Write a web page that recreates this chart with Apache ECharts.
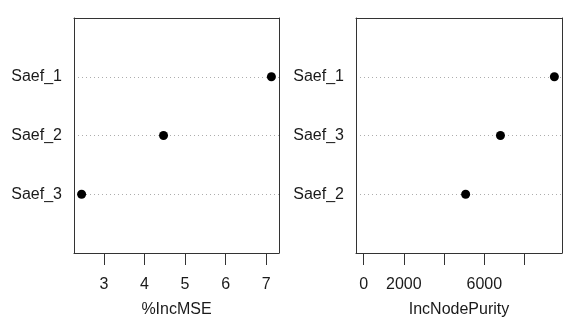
<!DOCTYPE html>
<html>
<head>
<meta charset="utf-8">
<script src="https://cdn.jsdelivr.net/npm/echarts@6/dist/echarts.min.js"></script>
<style>
html,body{margin:0;padding:0;background:#fff;}
#chart{width:585px;height:327px;}
</style>
</head>
<body>
<div id="chart"></div>
<script>
// Left panel (%IncMSE), categories listed top to bottom
const leftCats = ['Saef_1', 'Saef_2', 'Saef_3'];
const leftVals = [7.13, 4.47, 2.45];
const leftTicks = [3, 4, 5, 6, 7];
const leftTickLabels = [3, 4, 5, 6, 7];
const leftTitle = '%IncMSE';

// Right panel (IncNodePurity), categories listed top to bottom
const rightCats = ['Saef_1', 'Saef_3', 'Saef_2'];
const rightVals = [9480, 6800, 5070];
const rightTicks = [0, 2000, 4000, 6000, 8000];
const rightTickLabels = [0, 2000, 6000];
const rightTitle = 'IncNodePurity';

const FONT = 'Liberation Sans, Arial, sans-serif';
const TXT = '#1a1a1a';
const LINE = '#333';

function padRange(lo, hi) {
  const r = hi - lo;
  return [lo - 0.04 * r, hi + 0.04 * r];
}
const leftRange = padRange(Math.min(...leftVals), Math.max(...leftVals));
const rightRange = padRange(0, Math.max(...rightVals));

function toData(cats, vals) {
  const n = cats.length;
  return vals.map((v, i) => [v, n - i]);
}

const grids = [
  { left: 74, top: 18, width: 205, height: 235 },
  { left: 356, top: 18, width: 206, height: 235 }
];

function xAxes(gi, range, ticks, labels, title) {
  return [
    {
      gridIndex: gi, type: 'value', position: 'bottom',
      min: range[0], max: range[1],
      axisLine: { show: true, onZero: false, lineStyle: { color: LINE, width: 1 } },
      axisTick: { show: true, inside: false, length: 12, customValues: ticks, lineStyle: { color: LINE, width: 1 } },
      axisLabel: { show: true, customValues: labels, margin: 24, fontSize: 16, color: TXT, fontFamily: FONT,
        formatter: v => String(v) },
      splitLine: { show: false },
      name: title, nameLocation: 'middle', nameGap: 49,
      nameTextStyle: { fontSize: 16, color: TXT, fontFamily: FONT }
    },
    {
      gridIndex: gi, type: 'value', position: 'top',
      min: range[0], max: range[1],
      axisLine: { show: true, onZero: false, lineStyle: { color: LINE, width: 1 } },
      axisTick: { show: false }, axisLabel: { show: false }, splitLine: { show: false }
    }
  ];
}

function yAxes(gi, cats) {
  const n = cats.length;
  return [
    {
      gridIndex: gi, type: 'value', position: 'left',
      min: 0, max: n + 1, interval: 1,
      axisLine: { show: true, onZero: false, lineStyle: { color: LINE, width: 1 } },
      axisTick: { show: false },
      axisLabel: {
        show: true, margin: 12, fontSize: 16, color: TXT, fontFamily: FONT,
        formatter: v => (v >= 1 && v <= n) ? cats[n - v] : ''
      },
      splitLine: {
        show: true, showMinLine: false, showMaxLine: false,
        lineStyle: { color: '#adadad', type: [1, 3], width: 1 }
      }
    },
    {
      gridIndex: gi, type: 'value', position: 'right',
      min: 0, max: n + 1, interval: 1,
      axisLine: { show: true, onZero: false, lineStyle: { color: LINE, width: 1 } },
      axisTick: { show: false }, axisLabel: { show: false }, splitLine: { show: false }
    }
  ];
}

const option = {
  animation: false,
  backgroundColor: '#fff',
  grid: grids,
  xAxis: [
    ...xAxes(0, leftRange, leftTicks, leftTickLabels, leftTitle),
    ...xAxes(1, rightRange, rightTicks, rightTickLabels, rightTitle)
  ],
  yAxis: [
    ...yAxes(0, leftCats),
    ...yAxes(1, rightCats)
  ],
  series: [
    {
      type: 'scatter', xAxisIndex: 0, yAxisIndex: 0,
      data: toData(leftCats, leftVals),
      symbol: 'circle', symbolSize: 9,
      itemStyle: { color: '#000', opacity: 1 }
    },
    {
      type: 'scatter', xAxisIndex: 2, yAxisIndex: 2,
      data: toData(rightCats, rightVals),
      symbol: 'circle', symbolSize: 9,
      itemStyle: { color: '#000', opacity: 1 }
    }
  ]
};

const chart = echarts.init(document.getElementById('chart'), null, { renderer: 'canvas' });
chart.setOption(option);
</script>
</body>
</html>
